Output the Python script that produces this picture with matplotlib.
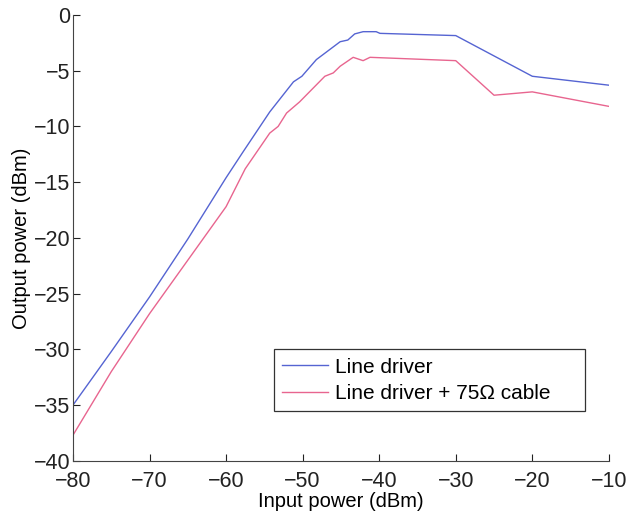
import matplotlib.pyplot as plt

plt.rcParams['font.family'] = ['Liberation Sans', 'DejaVu Sans']

# input power sweep (dBm) and measured output power (dBm)
x_driver = [-80, -75, -70, -65, -60, -57.8, -54.3, -51.2, -50.1, -48.2,
            -45.1, -44.1, -43.2, -42.1, -40.4, -39.9, -30, -20, -10]
y_driver = [-35.0, -30.2, -25.3, -20.1, -14.6, -12.3, -8.7, -6.0, -5.5, -4.0,
            -2.4, -2.25, -1.7, -1.5, -1.5, -1.65, -1.85, -5.5, -6.3]

x_cable = [-80, -75, -70, -65, -60, -57.5, -54.3, -53.2, -52.1, -50.4,
           -47.1, -46.0, -45.1, -43.4, -42.1, -41.2, -30, -25, -20, -10]
y_cable = [-37.7, -32.0, -26.8, -22.0, -17.2, -13.8, -10.6, -10.0, -8.8, -7.8,
           -5.5, -5.2, -4.6, -3.8, -4.1, -3.8, -4.1, -7.2, -6.9, -8.2]

fig = plt.figure(figsize=(6.26, 5.16), dpi=100)
ax = fig.add_axes([0.1166, 0.107, 0.856, 0.864])

ax.plot(x_driver, y_driver, color='#5564d2', lw=1.0, label='Line driver')
ax.plot(x_cable, y_cable, color='#e8658f', lw=1.0, label='Line driver + 75\u03a9 cable')

ax.set_xlim(-80, -10)
ax.set_ylim(-40, 0)
ax.set_xticks(range(-80, -9, 10))
ax.set_yticks(range(-40, 1, 5))

for s in ['top', 'right']:
    ax.spines[s].set_visible(False)
for s in ['left', 'bottom']:
    ax.spines[s].set_color('#444444')
ax.tick_params(direction='in', length=5, labelsize=15.5, colors='#222222', pad=2)
ax.tick_params(axis='x', pad=7)

ax.set_xlabel('Input power (dBm)', fontsize=14.5, labelpad=0)
ax.set_ylabel('Output power (dBm)', fontsize=14.5, labelpad=2)

# legend box stretched to a fixed width, text left aligned inside
leg = ax.legend(loc='lower left', bbox_to_anchor=(0.375, 0.111, 0.58, 0.14),
                mode='expand', fontsize=15, handlelength=2.2, fancybox=False,
                framealpha=1, borderpad=0.4, labelspacing=0.35,
                handletextpad=0.35, borderaxespad=0)
leg.get_frame().set_edgecolor('#333333')
leg.get_frame().set_linewidth(0.9)

fig.savefig('out.png', dpi=100)
